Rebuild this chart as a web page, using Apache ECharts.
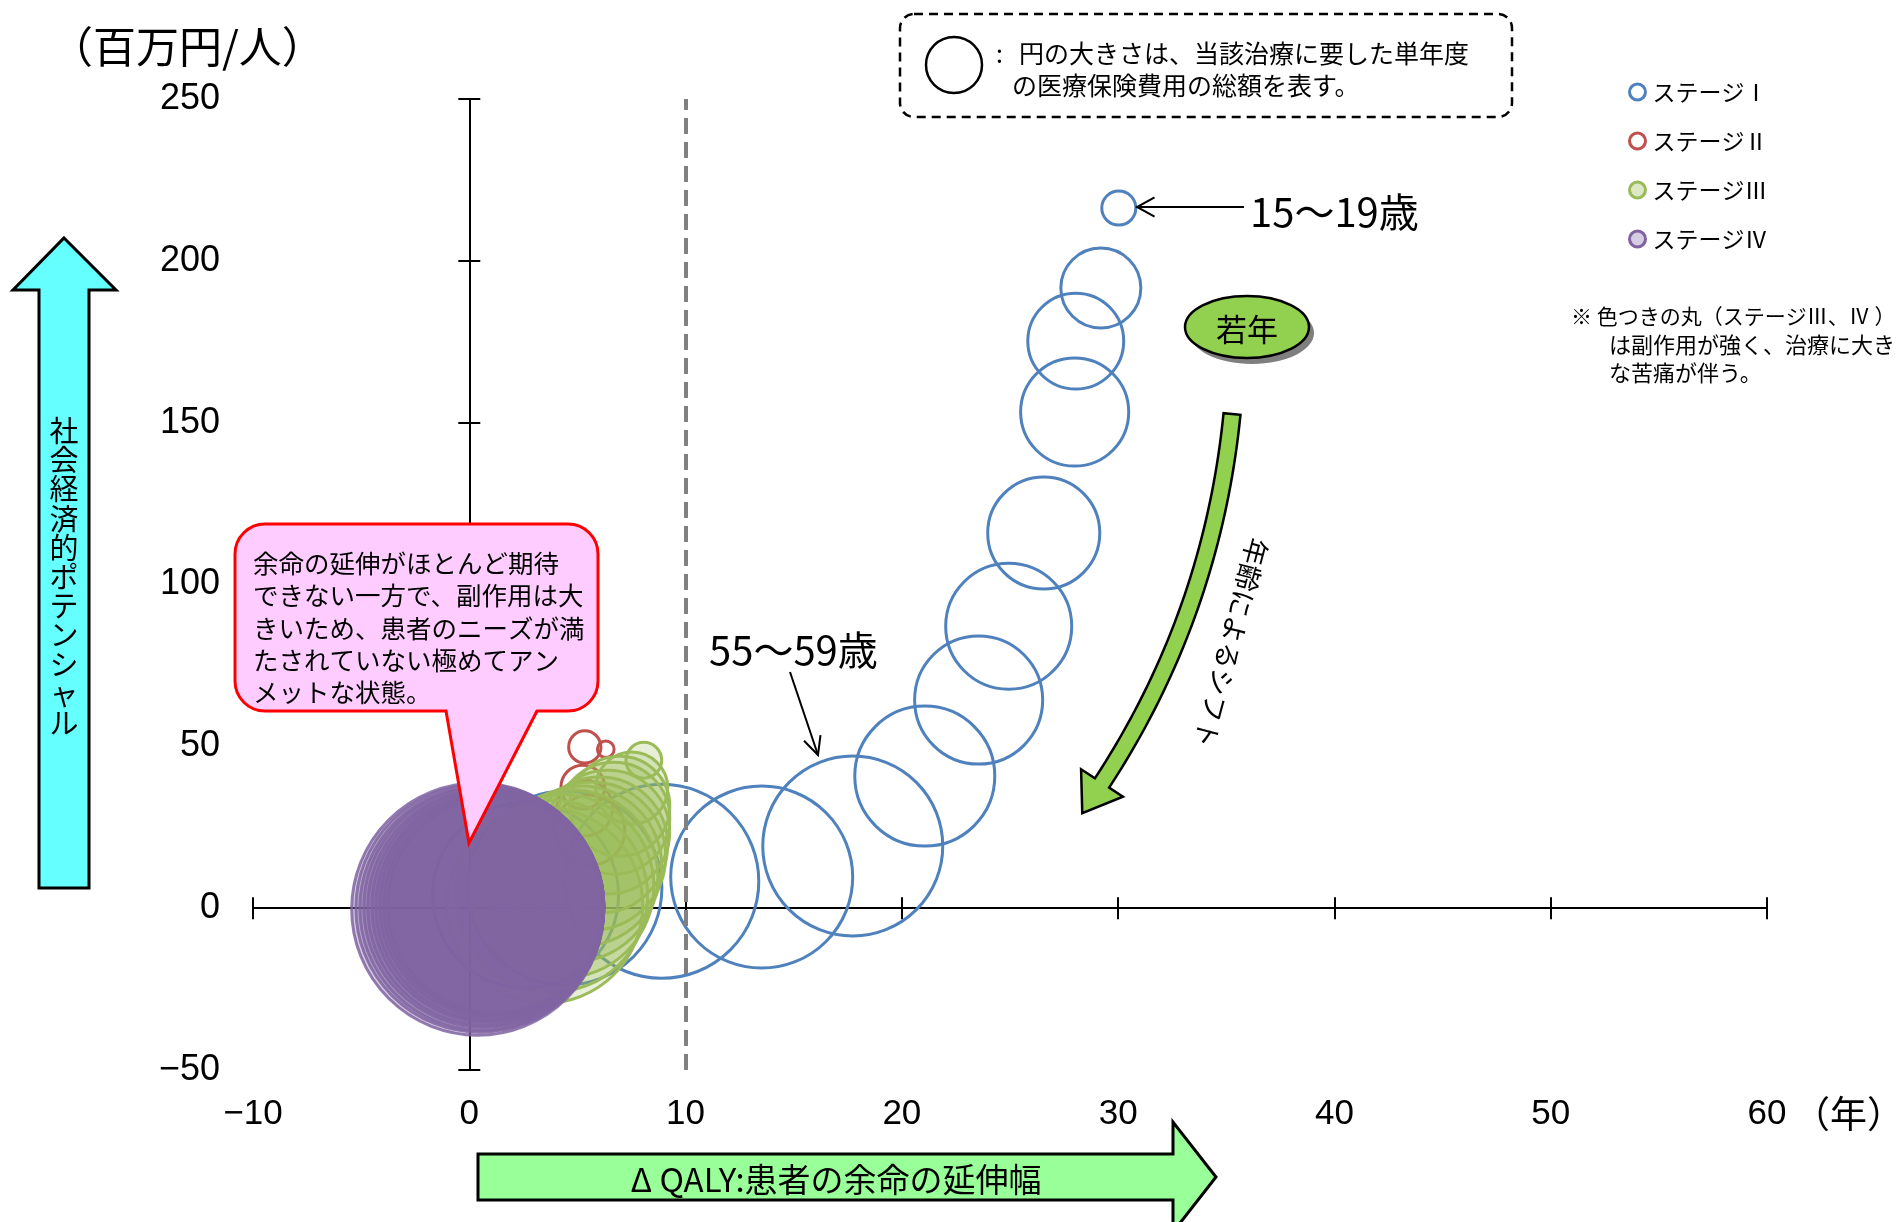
<!DOCTYPE html>
<html lang="ja">
<head>
<meta charset="utf-8">
<title>ΔQALYと社会経済的ポテンシャル</title>
<script src="https://cdn.jsdelivr.net/npm/echarts@6/dist/echarts.min.js"></script>
<style>
  html, body { margin: 0; padding: 0; background: #fff; }
  #chart { width: 1897px; height: 1222px; }
</style>
</head>
<body>
<div id="chart"></div>
<script>
// Each point: [ΔQALY (年), 社会経済的ポテンシャル (百万円/人), 単年度医療保険費用の総額 (相対値)]
// ステージⅠ: 15〜19歳 から年齢順
const stage1 = [
  [30.03, 216.3, 2.9],
  [29.20, 191.6, 16.0],
  [28.04, 175.2, 23.0],
  [27.99, 153.3, 29.2],
  [26.56, 115.9, 31.4],
  [24.94, 87.1, 39.7],
  [23.55, 64.3, 41.0],
  [21.06, 40.8, 49.0],
  [17.73, 19.2, 81.0],
  [13.52, 9.6, 82.8],
  [8.90, 8.3, 94.1],
  [4.42, 6.2, 94.1],
  [2.60, 4.0, 86.5]
];
const stage2 = [
  [5.34, 49.8, 2.6],
  [6.31, 49.1, 0.7],
  [5.25, 37.4, 4.8],
  [5.34, 30.9, 7.8],
  [5.57, 24.1, 12.3]
];
const stage3 = [
  [8.07, 45.7, 3.2],
  [7.51, 37.1, 13.0],
  [6.96, 31.5, 25.0],
  [6.68, 27.8, 31.4],
  [6.40, 23.5, 38.4],
  [6.03, 19.5, 46.2],
  [5.66, 16.1, 54.8],
  [5.20, 13.0, 64.0],
  [4.74, 9.9, 74.0],
  [4.28, 6.8, 84.6],
  [3.81, 3.7, 92.2],
  [3.49, 0.9, 96.0]
];
const stage4 = [
  [0.39, -0.3, 158.8],
  [0.49, 0.0, 153.8],
  [0.58, 0.0, 148.8],
  [0.67, 0.3, 144.0],
  [0.76, 0.3, 139.2],
  [0.86, 0.6, 134.6],
  [0.95, 0.6, 130.0],
  [1.04, 0.9, 125.4],
  [1.13, 0.9, 121.0],
  [1.22, 0.9, 116.6]
];
const stageNames = ['ステージⅠ', 'ステージⅡ', 'ステージⅢ', 'ステージⅣ'];
const xTickLabels = ['−10', '0', '10', '20', '30', '40', '50', '60'];
const yTickLabels = ['−50', '0', '50', '100', '150', '200', '250'];
const X_MIN = -10, X_MAX = 60, X_STEP = 10;
const Y_MIN = -50, Y_MAX = 250, Y_STEP = 50;
const QALY_THRESHOLD = 10;

const JP = '"Noto Sans CJK JP", "Noto Sans CJK SC", sans-serif';
const NUM = '"Liberation Sans", Arial, sans-serif';
const jpFont = (s) => s + 'px ' + JP;

// bubble diameter from cost
const bubbleSize = (v) => Math.sqrt(v[2]) * 20;

const chart = echarts.init(document.getElementById('chart'), null, { renderer: 'canvas' });

function xAxisDef(extra) {
  return Object.assign({
    type: 'value', min: X_MIN, max: X_MAX, interval: X_STEP,
    splitLine: { show: false },
    axisLabel: { show: false },
    axisTick: { show: false },
    axisLine: { show: false, onZero: false }
  }, extra);
}
function yAxisDef(extra) {
  return Object.assign({
    type: 'value', min: Y_MIN, max: Y_MAX, interval: Y_STEP,
    splitLine: { show: false },
    axisLabel: { show: false },
    axisTick: { show: false },
    axisLine: { show: false, onZero: false }
  }, extra);
}
const blackLine = { color: '#000', width: 2 };

// curved "age shift" arrow built as a polygon around a quadratic Bezier
function curvedArrow(p0, p1, p2, halfW, headHalf, headLen) {
  const left = [], right = [];
  const N = 40;
  let nx = 0, ny = 0, dx = 0, dy = 0;
  for (let i = 0; i <= N; i++) {
    const t = i / N, u = 1 - t;
    const x = u * u * p0[0] + 2 * u * t * p1[0] + t * t * p2[0];
    const y = u * u * p0[1] + 2 * u * t * p1[1] + t * t * p2[1];
    dx = 2 * u * (p1[0] - p0[0]) + 2 * t * (p2[0] - p1[0]);
    dy = 2 * u * (p1[1] - p0[1]) + 2 * t * (p2[1] - p1[1]);
    const len = Math.hypot(dx, dy);
    dx /= len; dy /= len;
    nx = -dy; ny = dx;
    left.push([x + nx * halfW, y + ny * halfW]);
    right.push([x - nx * halfW, y - ny * halfW]);
  }
  const tip = [p2[0] + dx * headLen, p2[1] + dy * headLen];
  const barbL = [p2[0] + nx * headHalf, p2[1] + ny * headHalf];
  const barbR = [p2[0] - nx * headHalf, p2[1] - ny * headHalf];
  return left.concat([barbL, tip, barbR], right.reverse());
}

function openArrowHead(tip, from, len, spread) {
  const a = Math.atan2(tip[1] - from[1], tip[0] - from[0]);
  return [
    [tip[0] - len * Math.cos(a - spread), tip[1] - len * Math.sin(a - spread)],
    tip,
    [tip[0] - len * Math.cos(a + spread), tip[1] - len * Math.sin(a + spread)]
  ];
}

const txt = (x, y, text, size, extra) => ({
  type: 'text', x: x, y: y, z: 100,
  style: Object.assign({
    text: text, font: jpFont(size), fill: '#000',
    align: 'left', verticalAlign: 'middle',
    textAlign: 'left', textVerticalAlign: 'middle'
  }, extra || {})
});

const graphics = [
  // y unit
  txt(50, 47, '（百万円/人）', 43),
  // x unit
  txt(1793, 1114, '（年）', 37),

  // left axis arrow
  { type: 'polygon', z: 100,
    shape: { points: [[64, 238], [116, 290], [89, 290], [89, 888], [39, 888], [39, 290], [13, 290]] },
    style: { fill: '#66FFFF', stroke: '#000', lineWidth: 3 } },
  txt(64, 577, '社会経済的ポテンシャル'.split('').join('\n'), 29,
      { align: 'center', textAlign: 'center', lineHeight: 29.2 }),

  // bottom axis arrow
  { type: 'polygon', z: 100,
    shape: { points: [[478, 1154], [1173, 1154], [1173, 1122], [1216, 1177], [1173, 1232], [1173, 1200], [478, 1200]] },
    style: { fill: '#99FF99', stroke: '#000', lineWidth: 3 } },
  txt(836, 1179, 'Δ QALY:患者の余命の延伸幅', 33, { align: 'center', textAlign: 'center' }),

  // bubble size note
  { type: 'rect', z: 100,
    shape: { x: 900, y: 14, width: 612, height: 103, r: 14 },
    style: { fill: 'none', stroke: '#000', lineWidth: 2.5, lineDash: [9, 6] } },
  { type: 'circle', z: 100,
    shape: { cx: 954, cy: 65, r: 28 },
    style: { fill: 'none', stroke: '#000', lineWidth: 2.5 } },
  txt(996, 53, ':', 25),
  txt(1019, 53, '円の大きさは、当該治療に要した単年度', 25),
  txt(1012, 85, 'の医療保険費用の総額を表す。', 25),

  // 15〜19歳
  { type: 'line', z: 100, shape: { x1: 1244, y1: 207, x2: 1137, y2: 207 },
    style: { stroke: '#000', lineWidth: 2 } },
  { type: 'polyline', z: 100, shape: { points: openArrowHead([1137, 207], [1244, 207], 20, 0.5) },
    style: { stroke: '#000', lineWidth: 2, fill: 'none' } },
  txt(1250, 212, '15〜19歳', 40),

  // 55〜59歳
  { type: 'line', z: 100, shape: { x1: 790, y1: 672, x2: 818, y2: 755 },
    style: { stroke: '#000', lineWidth: 2 } },
  { type: 'polyline', z: 100, shape: { points: openArrowHead([818, 755], [790, 672], 20, 0.45) },
    style: { stroke: '#000', lineWidth: 2, fill: 'none' } },
  txt(709, 650, '55〜59歳', 40),

  // 若年
  { type: 'ellipse', z: 100, shape: { cx: 1252, cy: 333, rx: 62, ry: 31 },
    style: { fill: '#7F7F7F', stroke: 'none' } },
  { type: 'ellipse', z: 100, shape: { cx: 1247, cy: 327, rx: 62, ry: 31 },
    style: { fill: '#92D050', stroke: '#000', lineWidth: 2.5 } },
  txt(1247, 329, '若年', 31, { align: 'center', textAlign: 'center' }),

  // age shift arrow
  { type: 'polygon', z: 100,
    shape: { points: curvedArrow([1232, 414], [1212, 615], [1102, 783], 8.5, 25, 36) },
    style: { fill: '#92D050', stroke: '#000', lineWidth: 2.5 } },
  { type: 'text', z: 100, x: 1231, y: 643, rotation: -1.829,
    style: { text: '年齢によるシフト', font: jpFont(27), fill: '#000',
      align: 'center', verticalAlign: 'middle', textAlign: 'center', textVerticalAlign: 'middle' } },

  // callout
  { type: 'rect', z: 100, shape: { x: 235, y: 524, width: 363, height: 187, r: 30 },
    style: { fill: '#FFCCFF', stroke: '#FF0000', lineWidth: 3 } },
  { type: 'polygon', z: 101, shape: { points: [[447, 708], [469, 843], [537, 708]] },
    style: { fill: '#FFCCFF', stroke: 'none' } },
  { type: 'polyline', z: 102, shape: { points: [[446, 711], [469, 843], [537, 711]] },
    style: { fill: 'none', stroke: '#FF0000', lineWidth: 3 } },
  txt(253, 628,
      '余命の延伸がほとんど期待\nできない一方で、副作用は大\nきいため、患者のニーズが満\nたされていない極めてアン\nメットな状態。',
      25.5, { lineHeight: 32.4 }),

  // note on coloured circles
  txt(1571, 316, '※ 色つきの丸（ステージⅢ、Ⅳ ）', 21),
  txt(1609, 345, 'は副作用が強く、治療に大き', 22),
  txt(1609, 373, 'な苦痛が伴う。', 22)
];

const option = {
  animation: false,
  backgroundColor: '#fff',
  grid: { left: 253, right: 130, top: 99, bottom: 152, containLabel: false, outerBoundsMode: 'none' },
  legend: {
    orient: 'vertical', left: 1628, top: 80,
    itemWidth: 16, itemHeight: 16, itemGap: 25, padding: 0,
    icon: 'circle', selectedMode: false,
    textStyle: { fontFamily: JP, fontSize: 23, color: '#000', lineHeight: 24, padding: [0, 0, 0, 2] },
    data: [
      { name: stageNames[0], itemStyle: { color: '#fff', borderColor: '#4F81BD', borderWidth: 3 } },
      { name: stageNames[1], itemStyle: { color: '#fff', borderColor: '#C0504D', borderWidth: 3 } },
      { name: stageNames[2], itemStyle: { color: '#DCE8C6', borderColor: '#9BBB59', borderWidth: 3 } },
      { name: stageNames[3], itemStyle: { color: '#D6CDE3', borderColor: '#8064A2', borderWidth: 3 } }
    ]
  },
  xAxis: [
    xAxisDef({
      position: 'bottom',
      axisLabel: {
        show: true, margin: 27, fontSize: 35, fontFamily: NUM, color: '#000',
        formatter: (v) => xTickLabels[Math.round((v - X_MIN) / X_STEP)]
      }
    }),
    xAxisDef({
      position: 'bottom',
      axisLine: { show: true, onZero: true, lineStyle: blackLine },
      axisTick: { show: true, inside: false, length: 11, lineStyle: blackLine }
    }),
    xAxisDef({
      position: 'bottom',
      axisLine: { show: true, onZero: true, lineStyle: blackLine },
      axisTick: { show: true, inside: true, length: 11, lineStyle: blackLine }
    })
  ],
  yAxis: [
    yAxisDef({
      position: 'left',
      axisLabel: {
        show: true, margin: 33, fontSize: 36, fontFamily: NUM, color: '#000',
        formatter: (v) => yTickLabels[Math.round((v - Y_MIN) / Y_STEP)]
      }
    }),
    yAxisDef({
      position: 'left',
      axisLine: { show: true, onZero: true, lineStyle: blackLine },
      axisTick: { show: true, inside: false, length: 11, lineStyle: blackLine }
    }),
    yAxisDef({
      position: 'left',
      axisLine: { show: true, onZero: true, lineStyle: blackLine },
      axisTick: { show: true, inside: true, length: 11, lineStyle: blackLine }
    })
  ],
  series: [
    {
      name: stageNames[0], type: 'scatter', data: stage1, symbolSize: bubbleSize, z: 2,
      itemStyle: { color: 'rgba(255,255,255,0)', borderColor: '#4F81BD', borderWidth: 3, opacity: 1 },
      emphasis: { disabled: true }, silent: true
    },
    {
      name: stageNames[1], type: 'scatter', data: stage2, symbolSize: bubbleSize, z: 3,
      itemStyle: { color: 'rgba(255,255,255,0)', borderColor: '#C0504D', borderWidth: 3, opacity: 1 },
      emphasis: { disabled: true }, silent: true
    },
    {
      name: stageNames[2], type: 'scatter', data: stage3, symbolSize: bubbleSize, z: 4,
      itemStyle: { color: 'rgba(155,187,89,0.24)', borderColor: '#9BBB59', borderWidth: 3, opacity: 1 },
      emphasis: { disabled: true }, silent: true
    },
    {
      name: stageNames[3], type: 'scatter', data: stage4, symbolSize: bubbleSize, z: 5,
      itemStyle: { color: 'rgba(128,100,162,0.32)', borderColor: 'rgba(128,100,162,0.85)', borderWidth: 3, opacity: 1 },
      emphasis: { disabled: true }, silent: true,
      markLine: {
        silent: true, symbol: 'none', z: 6,
        label: { show: false },
        lineStyle: { color: '#808080', width: 4, type: [16, 8] },
        data: [{ xAxis: QALY_THRESHOLD }]
      }
    }
  ],
  graphic: graphics
};

chart.setOption(option);
</script>
</body>
</html>
